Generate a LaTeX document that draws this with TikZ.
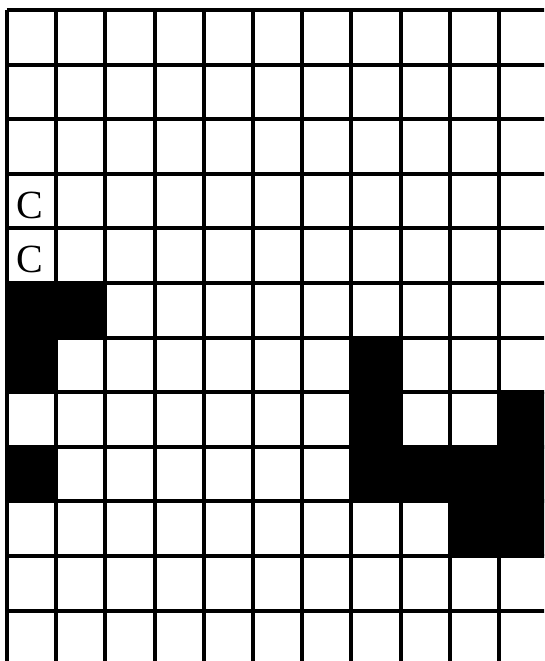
\documentclass[tikz,border=0pt]{standalone}
\usepackage{fontspec}
\setmainfont{Liberation Serif}
\begin{document}
\begin{tikzpicture}[x=49.2pt, y=-54.6pt, line width=4pt,
  letter/.style={anchor=base west, inner sep=0pt, font=\fontsize{40}{40}\selectfont}]
\useasboundingbox (-0.142,-0.183) rectangle (10.915,11.923);
\clip (-0.142,-0.183) rectangle (10.915,11.923);
\foreach \c/\r in {1/6,2/6,1/7,1/9,8/7,8/8,8/9,9/9,10/9,11/9,11/8,10/10,11/10} {
  \fill (\c-1,\r-1) rectangle (\c,\r);
}
\foreach \i in {0,...,11} {
  \draw (\i,0) -- (\i,12.5);
}
\foreach \j in {0,...,12} {
  \draw (0,\j) -- (11.5,\j);
}
\node[letter] (c1) at (0.15,3.81) {C};
\node[letter] (c2) at (0.15,4.81) {C};
\end{tikzpicture}
\end{document}
